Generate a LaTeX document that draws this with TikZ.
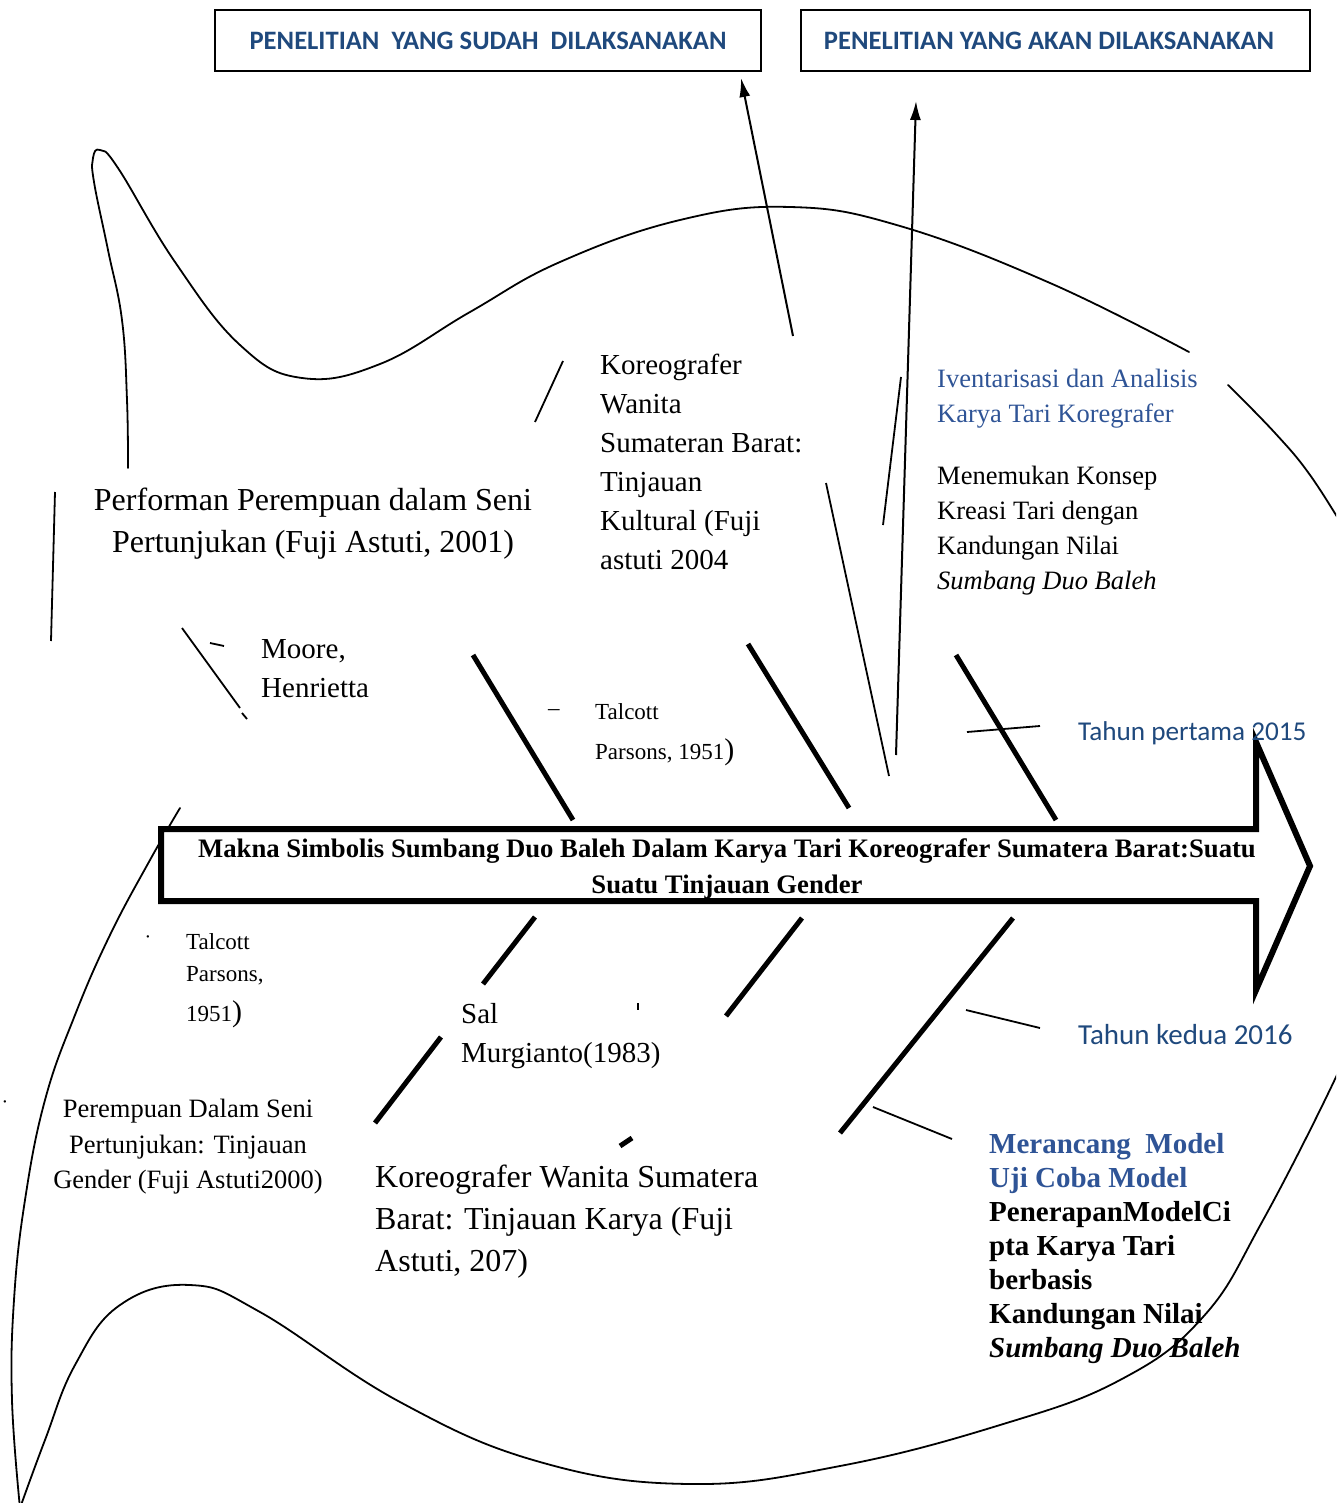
\documentclass[tikz,border=0pt]{standalone}
\usepackage{fontspec}
\setmainfont{Liberation Serif}
\newfontfamily\calfont{Carlito}
\usetikzlibrary{arrows.meta}
\definecolor{boxblue}{RGB}{31,73,125}
\definecolor{txtblue}{RGB}{47,84,150}
\newcommand\fs[2]{\fontsize{#1}{#2}\selectfont}
\begin{document}
\begin{tikzpicture}[x=1pt,y=-1pt,
  outline/.style={line width=1.8pt, line cap=round, line join=round},
  thinline/.style={line width=1.8pt},
  bone/.style={line width=5pt},
  link/.style={line width=2pt, -{Latex[length=19pt,width=11pt]}},
  headbox/.style={draw, line width=1.6pt, minimum width=#1, minimum height=61pt, inner sep=0pt,
    font=\calfont\bfseries\fs{26.6}{30}, text=boxblue},
  txt/.style={inner sep=0pt, align=left, anchor=north west},
  bigarrow/.style={draw, line width=6pt, fill=white, line join=miter, miter limit=20}
]
\useasboundingbox (0,0) rectangle (1336,1503);
\clip (0,0) rectangle (1336,1503);

% ---- fish outline ----
\draw[outline] plot[smooth, tension=0.7] coordinates {(128,468) (127,400) (122,320) (108,250) (94,182) (93,158) (100,150) (118,168) (175,262) (240,345) (302,378) (380,364) (470,312) (560,262) (680,220) (790,207) (900,226) (1050,283) (1189,352)};
\draw[outline] plot[smooth, tension=0.7] coordinates {(1228,385) (1275,433) (1310,475) (1345,530)};
\draw[outline] plot[smooth, tension=0.7] coordinates {(180,808) (150,860) (110,935) (75,1015) (45,1100) (25,1200) (14,1300) (12,1400) (20,1508)};
\draw[outline] plot[smooth, tension=0.7] coordinates {(20,1508) (45,1440) (75,1365) (120,1305) (190,1285) (260,1312) (400,1402) (540,1462) (690,1484) (840,1466) (1000,1425) (1120,1380) (1203,1317) (1262,1222) (1336,1077) (1348,1040)};

% ---- header boxes ----
\node[headbox=546pt] (done) at (488,40.5) {PENELITIAN\ \ YANG SUDAH\ \ DILAKSANAKAN};
\node[headbox=509pt] (plan) at (1055.5,40.5) {PENELITIAN YANG AKAN DILAKSANAKAN\hspace*{13pt}};

% ---- arrows to boxes ----
\coordinate (a1s) at (793,336);
\coordinate (a1e) at (741,78);
\coordinate (a2s) at (896,755);
\coordinate (a2e) at (916,101);
\draw[link] (a1s) -- (a1e);
\draw[link] (a2s) -- (a2e);

% ---- thin lines ----
\draw[thinline] (55,492) -- (51,641);
\draw[thinline] (182,628) -- (240,708);
\draw[thinline] (242,713) -- (247,719);
\draw[thinline] (210,643) -- (224,646);
\draw[thinline] (535,422) -- (563,361);
\draw[thinline] (826,483) -- (889,776);
\draw[thinline] (883,525) -- (901,377);
\draw[thinline] (967,732) -- (1040,726);
\draw[thinline] (966,1010) -- (1040,1028);
\draw[thinline] (873,1107) -- (952,1139);
\draw[thinline] (638,1003) -- (638,1010);

% ---- bones ----
\draw[bone] (473,655) -- (573,820);
\draw[bone] (748,644) -- (849,808);
\draw[bone] (956,655) -- (1056,820);
\draw[bone] (535,917) -- (483,984);
\draw[bone] (441,1037) -- (375,1123);
\draw[bone] (802,918) -- (726,1016);
\draw[bone] (632,1138) -- (620,1146);
\draw[bone] (1013,918) -- (840,1133);

% ---- main arrow ----
\draw[bigarrow] (161,829) -- (1256,829) -- (1256,742) -- (1310,866) -- (1256,990) -- (1256,901) -- (161,901) -- cycle;
\node[txt, anchor=north, align=center, font=\bfseries\fs{26.7}{36}] (title) at (727,838)
  {Makna Simbolis Sumbang Duo Baleh Dalam Karya Tari Koreografer Sumatera Barat:Suatu\\Suatu Tinjauan Gender};

% ---- texts ----
\node[txt, anchor=north, align=center, font=\fs{32}{42}] (perf) at (313,488)
  {Performan Perempuan dalam Seni\\Pertunjukan (Fuji Astuti, 2001)};
\node[txt, font=\fs{29}{39}] (kor1) at (600,354)
  {Koreografer\\Wanita\\Sumateran Barat:\\Tinjauan\\Kultural (Fuji\\astuti 2004};
\node[txt, font=\fs{26.5}{35}, text=txtblue] (inv) at (937,369)
  {Iventarisasi dan Analisis\\Karya Tari Koregrafer};
\node[txt, font=\fs{26.5}{35}] (konsep) at (937,466)
  {Menemukan Konsep\\Kreasi Tari dengan\\Kandungan Nilai\\\textit{Sumbang Duo Baleh}};
\node[txt, font=\fs{29}{39}] (moore) at (261,639) {Moore,\\Henrietta};
\node[txt, font=\fs{23}{40}] (dash) at (548,709) {–};
\node[txt, font=\fs{23}{40}] (tal1) at (595,703) {Talcott\\Parsons, 1951{\fs{30}{30})}};
\node[inner sep=0pt, anchor=west, font=\calfont\fs{27.2}{30}, text=boxblue] (th1) at (1078,733) {Tahun pertama 2015};
\node[inner sep=0pt, font=\fs{20}{20}] (dot1) at (148,940) {·};
\node[txt, font=\fs{23}{32}] (tal2) at (186,933) {Talcott\\Parsons,\\[8pt]1951{\fs{30}{30})}};
\node[txt, font=\fs{29}{39}] (sal) at (461,1003) {Sal\\Murgianto(1983)};
\node[inner sep=0pt, anchor=west, font=\calfont\fs{29}{30}, text=boxblue] (th2) at (1078,1035) {Tahun kedua 2016};
\node[inner sep=0pt, font=\fs{20}{20}] (dot2) at (5,1105) {·};
\node[txt, anchor=north, align=center, font=\fs{26.5}{35.5}] (perem) at (188,1099)
  {Perempuan Dalam Seni\\Pertunjukan: Tinjauan\\Gender (Fuji Astuti2000)};
\node[txt, font=\fs{32}{42}] (kor2) at (375,1165)
  {Koreografer Wanita Sumatera\\Barat: Tinjauan Karya (Fuji\\Astuti, 207)};
\node[txt, font=\bfseries\fs{29}{34}] (model) at (989,1133)
  {{\color{txtblue}Merancang\ \ Model}\\{\color{txtblue}Uji Coba Model}\\PenerapanModelCi\\pta Karya Tari\\berbasis\\Kandungan Nilai\\\textit{Sumbang Duo Baleh}};
\end{tikzpicture}
\end{document}
